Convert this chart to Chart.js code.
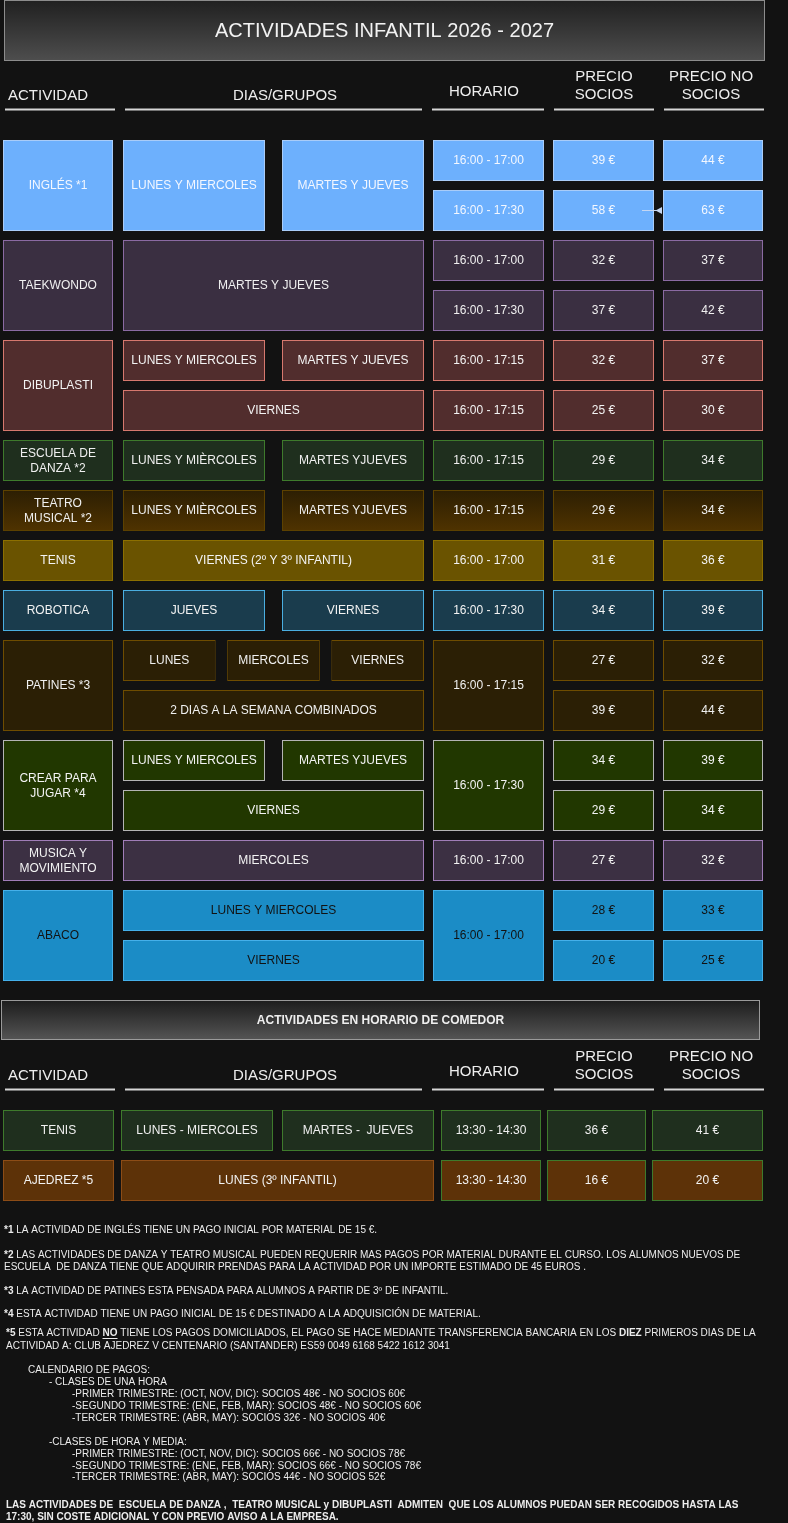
<!DOCTYPE html>
<html><head><meta charset="utf-8">
<script src="https://cdn.jsdelivr.net/npm/chart.js@4.4.1/dist/chart.umd.min.js"></script>
<style>html,body{margin:0;padding:0;background:#121212;}canvas{display:block;}</style>
</head><body>
<canvas id="c" width="788" height="1523" style="width:788px;height:1523px"></canvas>
<script>
// ================= DATA =================
const title = 'ACTIVIDADES INFANTIL 2026 - 2027';
const columnHeaders = ['ACTIVIDAD', 'DIAS/GRUPOS', 'HORARIO', 'PRECIO\nSOCIOS', 'PRECIO NO\nSOCIOS'];

const activities = ['INGLÉS *1', 'TAEKWONDO', 'DIBUPLASTI', 'ESCUELA DE\nDANZA *2', 'TEATRO\nMUSICAL *2',
  'TENIS', 'ROBOTICA', 'PATINES *3', 'CREAR PARA\nJUGAR *4', 'MUSICA Y\nMOVIMIENTO', 'ABACO'];
const dayGroups = [
  [['LUNES Y MIERCOLES', 'MARTES Y JUEVES']],
  [['MARTES Y JUEVES']],
  [['LUNES Y MIERCOLES', 'MARTES Y JUEVES'], ['VIERNES']],
  [['LUNES Y MIÈRCOLES', 'MARTES YJUEVES']],
  [['LUNES Y MIÈRCOLES', 'MARTES YJUEVES']],
  [['VIERNES (2º Y 3º INFANTIL)']],
  [['JUEVES', 'VIERNES']],
  [['LUNES', 'MIERCOLES', 'VIERNES'], ['2 DIAS A LA SEMANA COMBINADOS']],
  [['LUNES Y MIERCOLES', 'MARTES YJUEVES'], ['VIERNES']],
  [['MIERCOLES']],
  [['LUNES Y MIERCOLES'], ['VIERNES']]
];
const schedules = [
  ['16:00 - 17:00', '16:00 - 17:30'],
  ['16:00 - 17:00', '16:00 - 17:30'],
  ['16:00 - 17:15', '16:00 - 17:15'],
  ['16:00 - 17:15'],
  ['16:00 - 17:15'],
  ['16:00 - 17:00'],
  ['16:00 - 17:30'],
  ['16:00 - 17:15'],
  ['16:00 - 17:30'],
  ['16:00 - 17:00'],
  ['16:00 - 17:00']
];
const priceSocios   = [[39, 58], [32, 37], [32, 25], [29], [29], [31], [34], [27, 39], [34, 29], [27], [28, 20]];
const priceNoSocios = [[44, 63], [37, 42], [37, 30], [34], [34], [36], [39], [32, 44], [39, 34], [32], [33, 25]];

const lunchTitle = 'ACTIVIDADES EN HORARIO DE COMEDOR';
const lunchActivities = ['TENIS', 'AJEDREZ *5'];
const lunchDayGroups = [['LUNES - MIERCOLES', 'MARTES -  JUEVES'], ['LUNES (3º INFANTIL)']];
const lunchSchedules = ['13:30 - 14:30', '13:30 - 14:30'];
const lunchPriceSocios = [36, 16];
const lunchPriceNoSocios = [41, 20];

// segments: [text, 0 normal | 1 bold | 2 bold+underline]
const footnoteLines = [
  [['*1', 1], [' LA ACTIVIDAD DE INGLÉS TIENE UN PAGO INICIAL POR MATERIAL DE 15 €.', 0]],
  [['*2', 1], [' LAS ACTIVIDADES DE DANZA Y TEATRO MUSICAL PUEDEN REQUERIR MAS PAGOS POR MATERIAL DURANTE EL CURSO. LOS ALUMNOS NUEVOS DE', 0]],
  [['ESCUELA  DE DANZA TIENE QUE ADQUIRIR PRENDAS PARA LA ACTIVIDAD POR UN IMPORTE ESTIMADO DE 45 EUROS .', 0]],
  [['*3', 1], [' LA ACTIVIDAD DE PATINES ESTA PENSADA PARA ALUMNOS A PARTIR DE 3º DE INFANTIL.', 0]],
  [['*4', 1], [' ESTA ACTIVIDAD TIENE UN PAGO INICIAL DE 15 € DESTINADO A LA ADQUISICIÓN DE MATERIAL.', 0]],
  [['*5', 1], [' ESTA ACTIVIDAD ', 0], ['NO', 2], [' TIENE LOS PAGOS DOMICILIADOS, EL PAGO SE HACE MEDIANTE TRANSFERENCIA BANCARIA EN LOS ', 0], ['DIEZ', 1], [' PRIMEROS DIAS DE LA', 0]],
  [['ACTIVIDAD A: CLUB AJEDREZ V CENTENARIO (SANTANDER) ES59 0049 6168 5422 1612 3041', 0]],
  [['CALENDARIO DE PAGOS:', 0]],
  [['- CLASES DE UNA HORA', 0]],
  [['-PRIMER TRIMESTRE: (OCT, NOV, DIC): SOCIOS 48€ - NO SOCIOS 60€', 0]],
  [['-SEGUNDO TRIMESTRE: (ENE, FEB, MAR): SOCIOS 48€ - NO SOCIOS 60€', 0]],
  [['-TERCER TRIMESTRE: (ABR, MAY): SOCIOS 32€ - NO SOCIOS 40€', 0]],
  [['-CLASES DE HORA Y MEDIA:', 0]],
  [['-PRIMER TRIMESTRE: (OCT, NOV, DIC): SOCIOS 66€ - NO SOCIOS 78€', 0]],
  [['-SEGUNDO TRIMESTRE: (ENE, FEB, MAR): SOCIOS 66€ - NO SOCIOS 78€', 0]],
  [['-TERCER TRIMESTRE: (ABR, MAY): SOCIOS 44€ - NO SOCIOS 52€', 0]],
  [['LAS ACTIVIDADES DE  ESCUELA DE DANZA ,  TEATRO MUSICAL y DIBUPLASTI  ADMITEN  QUE LOS ALUMNOS PUEDAN SER RECOGIDOS HASTA LAS', 1]],
  [['17:30, SIN COSTE ADICIONAL Y CON PREVIO AVISO A LA EMPRESA.', 1]]
];

// ================= LAYOUT & STYLE =================
const FF = '"Liberation Sans", Arial, sans-serif';
const FONTS = {
  cell: '12px ' + FF, title: '20px ' + FF, head: '15px ' + FF, banner: 'bold 12px ' + FF,
  note: '10px ' + FF, noteB: 'bold 10px ' + FF
};
const PAL = {
  title:   {grad: ['#202020', '#4e4e4e'], stroke: '#8c8c8c', text: '#f2f2f2'},
  banner:  {grad: ['#1c1c1c', '#555555'], stroke: '#9a9a9a', text: '#eeeeee'},
  rule:    {fill: '#d6d6d6', stroke: '#d6d6d6'},
  ingles:  {fill: '#6db0fd', stroke: '#a9ccf8', text: '#f3f7ff'},
  taek:    {fill: '#3a2f41', stroke: '#8a6aa2', text: '#f0f0f0'},
  dibu:    {fill: '#512d2d', stroke: '#d6786e', text: '#f3f3f3'},
  danza:   {fill: '#1f2f1e', stroke: '#3e7a2c', text: '#f0f0f0'},
  teatro:  {grad: ['#2c1e03', '#4f3300'], stroke: '#5c4100', text: '#f0f0f0'},
  tenis:   {fill: '#6a5300', stroke: '#8c6f00', text: '#f3f3f3'},
  robot:   {fill: '#1a3c4d', stroke: '#4aaee0', text: '#f3f3f3'},
  patines: {fill: '#2b1f05', stroke: '#6e4c00', text: '#f0f0f0'},
  crear:   {fill: '#213700', stroke: '#b4b4b4', text: '#f3f3f3'},
  musica:  {fill: '#3c3043', stroke: '#a07db8', text: '#f3f3f3'},
  abaco:   {fill: '#1b8cc6', stroke: '#45b0ea', text: '#121212'},
  tenisC:  {fill: '#1f2f1e', stroke: '#3e7a2c', text: '#f0f0f0'},
  ajedrez: {fill: '#5d3208', stroke: '#8c4c16', stroke2: '#3e7a2c', text: '#f3f3f3'}
};
const rowStyles = ['ingles', 'taek', 'dibu', 'danza', 'teatro', 'tenis', 'robot', 'patines', 'crear', 'musica', 'abaco'];
const lunchStyles = ['tenisC', 'ajedrez'];

const G = {
  top1: 140, top2: 1110, pitch: 50, h: 41,
  c1: [[3, 113], [123, 424], [433, 544], [553, 654], [663, 763]],
  c2: [[3, 114], [121, 434], [441, 541], [547, 646], [652, 763]],
  gap1: {2: 17, 3: 11.5}, gap2: {2: 9},
  headY1: 96, headShift2: 980,
  headX: [[8, 'left'], [285, 'center'], [484, 'center'], [604, 'center'], [711, 'center']],
  headDy: [0, 0, -4, -10, -10],
  rules: [[5, 115], [125, 422], [432, 544], [554, 654], [664, 764]], ruleY: 109.5,
  titleBox: [4, 765, 0, 61], bannerBox: [1, 760, 1000, 1040],
  noteXY: [[4, 1230], [4, 1255], [4, 1267], [4, 1291], [4, 1314], [6, 1333], [6, 1346], [28, 1370], [49, 1382],
    [72, 1394], [72, 1406], [72, 1418], [49, 1442], [72, 1454], [72, 1466], [72, 1477], [6, 1505], [6, 1517]]
};

// ================= BUILD BAR TABLE =================
const byThickness = {};
function push(x0, x1, top, h, props) {
  const key = String(h);
  if (!byThickness[key]) byThickness[key] = [];
  byThickness[key].push(Object.assign({x: [x0, x1], y: top + h / 2, t: top, b: top + h}, props));
}
function split(range, n, gaps) {
  const g = n > 1 ? (gaps[n] || 10) : 0;
  const w = (range[1] - range[0] - g * (n - 1)) / n;
  return Array.from({length: n}, (_, i) => [range[0] + i * (w + g), range[0] + i * (w + g) + w]);
}
function addCell(range, top, rowIdx, span, text, s, col) {
  const t = top + rowIdx * G.pitch;
  const h = (span - 1) * G.pitch + G.h;
  push(range[0], range[1], t, h, {text, s, col, f: 'cell'});
}
const euro = v => v + ' €';

let row = 0;
activities.forEach((name, i) => {
  const n = Math.max(priceSocios[i].length, dayGroups[i].length, schedules[i].length);
  const st = rowStyles[i];
  addCell(G.c1[0], G.top1, row, n, name, st, 0);
  dayGroups[i].forEach((grp, r) => {
    const span = dayGroups[i].length === 1 ? n : 1;
    const parts = split(G.c1[1], grp.length, G.gap1);
    grp.forEach((txt, k) => addCell(parts[k], G.top1, row + r, span, txt, st, 1));
  });
  schedules[i].forEach((s, r) => addCell(G.c1[2], G.top1, row + r, schedules[i].length === 1 ? n : 1, s, st, 2));
  priceSocios[i].forEach((p, r) => addCell(G.c1[3], G.top1, row + r, priceSocios[i].length === 1 ? n : 1, euro(p), st, 3));
  priceNoSocios[i].forEach((p, r) => addCell(G.c1[4], G.top1, row + r, priceNoSocios[i].length === 1 ? n : 1, euro(p), st, 4));
  row += n;
});
lunchActivities.forEach((name, i) => {
  const st = lunchStyles[i];
  addCell(G.c2[0], G.top2, i, 1, name, st, 0);
  const parts = split(G.c2[1], lunchDayGroups[i].length, G.gap2);
  lunchDayGroups[i].forEach((txt, k) => addCell(parts[k], G.top2, i, 1, txt, st, 1));
  addCell(G.c2[2], G.top2, i, 1, lunchSchedules[i], st, 2);
  addCell(G.c2[3], G.top2, i, 1, euro(lunchPriceSocios[i]), st, 3);
  addCell(G.c2[4], G.top2, i, 1, euro(lunchPriceNoSocios[i]), st, 4);
});
// banners
push(G.titleBox[0], G.titleBox[1], G.titleBox[2], G.titleBox[3] - G.titleBox[2], {text: title, s: 'title', f: 'title'});
push(G.bannerBox[0], G.bannerBox[1], G.bannerBox[2], G.bannerBox[3] - G.bannerBox[2], {text: lunchTitle, s: 'banner', f: 'banner'});
// header rules
[0, G.headShift2].forEach(dy => G.rules.forEach(r => push(r[0], r[1], G.ruleY + dy - 1, 2, {s: 'rule'})));

function fillFor(c) {
  const r = c.raw; if (!r || !PAL[r.s]) return 'transparent';
  const p = PAL[r.s];
  if (p.grad) {
    const ys = c.chart.scales && c.chart.scales.y;
    const y0 = ys ? ys.getPixelForValue(r.t) : NaN, y1 = ys ? ys.getPixelForValue(r.b) : NaN;
    if (!isFinite(y0) || !isFinite(y1)) return p.grad[1];
    const g = c.chart.ctx.createLinearGradient(0, y0, 0, y1);
    g.addColorStop(0, p.grad[0]); g.addColorStop(1, p.grad[1]);
    return g;
  }
  return p.fill;
}
function strokeFor(c) {
  const r = c.raw; if (!r || !PAL[r.s]) return 'transparent';
  const p = PAL[r.s];
  return (r.col >= 2 && p.stroke2) ? p.stroke2 : p.stroke;
}

const datasets = Object.keys(byThickness).map(k => ({
  data: byThickness[k],
  barThickness: Number(k),
  backgroundColor: fillFor,
  borderColor: strokeFor,
  borderWidth: c => (c.raw && c.raw.s === 'rule') ? 0 : 1
}));

// ================= PLUGINS =================
const bgPlugin = {
  id: 'bg',
  beforeDraw(chart) {
    const {ctx, width, height} = chart;
    ctx.save(); ctx.fillStyle = '#121212'; ctx.fillRect(0, 0, width, height); ctx.restore();
  }
};
const textPlugin = {
  id: 'texts',
  afterDatasetsDraw(chart) {
    const ctx = chart.ctx, xs = chart.scales.x, ys = chart.scales.y;
    ctx.save();
    ctx.textBaseline = 'middle';
    // cell texts
    chart.data.datasets.forEach((ds, di) => {
      const meta = chart.getDatasetMeta(di);
      meta.data.forEach((el, i) => {
        const r = ds.data[i];
        if (!r.text) return;
        const p = el.getProps(['x', 'y', 'base'], true);
        const cx = (p.x + p.base) / 2;
        ctx.font = FONTS[r.f];
        ctx.fillStyle = PAL[r.s].text;
        ctx.textAlign = 'center';
        const lines = r.text.split('\n');
        const lh = 15;
        lines.forEach((ln, j) => ctx.fillText(ln, cx, p.y + 0.5 + (j - (lines.length - 1) / 2) * lh));
      });
    });
    // arrow artifact between two Inglés prices
    ctx.strokeStyle = '#c4d6f2'; ctx.fillStyle = '#c4d6f2'; ctx.lineWidth = 1;
    const ay = ys.getPixelForValue(210.5);
    ctx.beginPath(); ctx.moveTo(xs.getPixelForValue(642), ay); ctx.lineTo(xs.getPixelForValue(657), ay); ctx.stroke();
    ctx.beginPath(); ctx.moveTo(xs.getPixelForValue(655.5), ay);
    ctx.lineTo(xs.getPixelForValue(662), ys.getPixelForValue(207)); ctx.lineTo(xs.getPixelForValue(662), ys.getPixelForValue(214));
    ctx.closePath(); ctx.fill();
    // column headers
    ctx.font = FONTS.head; ctx.fillStyle = '#eeeeee';
    [0, G.headShift2].forEach(dy => {
      columnHeaders.forEach((h, k) => {
        const lines = h.split('\n');
        ctx.textAlign = G.headX[k][1];
        const cy = G.headY1 + dy + G.headDy[k];
        lines.forEach((ln, j) => ctx.fillText(ln, xs.getPixelForValue(G.headX[k][0]), ys.getPixelForValue(cy + (j - (lines.length - 1) / 2) * 18)));
      });
    });
    // footnotes
    ctx.textAlign = 'left';
    ctx.fillStyle = '#ececec'; ctx.strokeStyle = '#ececec';
    footnoteLines.forEach((segs, i) => {
      let x = xs.getPixelForValue(G.noteXY[i][0]);
      const y = ys.getPixelForValue(G.noteXY[i][1]);
      segs.forEach(([txt, st]) => {
        ctx.font = st ? FONTS.noteB : FONTS.note;
        ctx.fillText(txt, x, y);
        const w = ctx.measureText(txt).width;
        if (st === 2) { ctx.beginPath(); ctx.moveTo(x, y + 5.5); ctx.lineTo(x + w, y + 5.5); ctx.stroke(); }
        x += w;
      });
    });
    ctx.restore();
  }
};

const chart = new Chart(document.getElementById('c'), {
  type: 'bar',
  data: {datasets},
  options: {
    indexAxis: 'y',
    responsive: false,
    maintainAspectRatio: false,
    animation: false,
    events: [],
    layout: {padding: 0},
    plugins: {legend: {display: false}, tooltip: {enabled: false}},
    datasets: {bar: {grouped: false, borderSkipped: false, inflateAmount: 0}},
    scales: {
      x: {type: 'linear', min: 0, max: 788, offset: false, display: false},
      y: {type: 'linear', min: 0, max: 1523, reverse: true, offset: false, display: false}
    }
  },
  plugins: [bgPlugin, textPlugin]
});
chart.update('none');
</script>
</body></html>
